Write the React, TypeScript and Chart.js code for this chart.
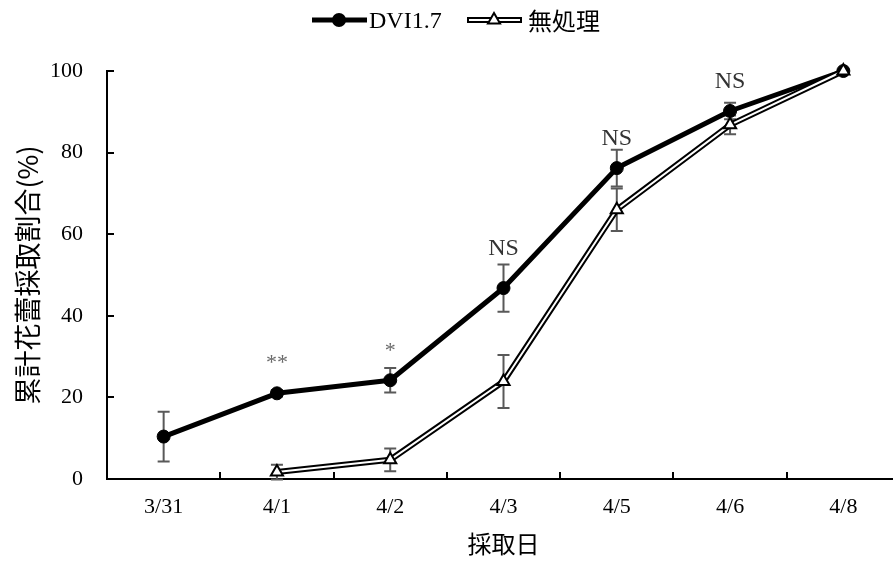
import React, { useEffect, useRef } from 'react';
import { Chart, registerables } from 'chart.js';

Chart.register(...registerables);

const categories = ['3/31', '4/1', '4/2', '4/3', '4/5', '4/6', '4/8'];
const dviValues = [10.4, 21.0, 24.2, 46.8, 76.2, 90.2, 100];
const dviErrors = [6.1, 0.8, 3.0, 5.8, 4.5, 2.0, 0];
const ntValues = [null, 1.7, 4.7, 23.9, 66.0, 86.8, 100];
const ntErrors = [null, 1.8, 2.8, 6.5, 5.2, 2.3, 0];
const sigLabels = ['', '**', '*', 'NS', 'NS', 'NS', ''];
const sigLabelY = [null, 27.0, 29.9, 54.9, 81.9, 95.8, null];
const yTicks = [0, 20, 40, 60, 80, 100];

const SERIF = '"Liberation Serif", "Times New Roman", serif';
const CJK = '"Noto Sans CJK JP", "Noto Sans", sans-serif';

const errorBarPlugin = {
  id: 'errorBars',
  beforeDatasetsDraw(chart: any) {
    const { ctx, scales } = chart;
    const xs = scales.x;
    const ys = scales.y;
    ctx.save();
    ctx.strokeStyle = '#595959';
    ctx.lineWidth = 2;
    const series: [Array<number | null>, Array<number | null>][] = [
      [dviValues, dviErrors],
      [ntValues, ntErrors],
    ];
    series.forEach(([vals, errs]) => {
      vals.forEach((v, i) => {
        const e = errs[i];
        if (v == null || e == null || e === 0) return;
        const x = xs.getPixelForValue(i);
        const yt = ys.getPixelForValue(v + e);
        const yb = ys.getPixelForValue(v - e);
        ctx.beginPath();
        ctx.moveTo(x, yt);
        ctx.lineTo(x, yb);
        ctx.moveTo(x - 6, yt);
        ctx.lineTo(x + 6, yt);
        ctx.moveTo(x - 6, yb);
        ctx.lineTo(x + 6, yb);
        ctx.stroke();
      });
    });
    ctx.restore();
  },
};

const ticksPlugin = {
  id: 'innerTicks',
  afterDatasetsDraw(chart: any) {
    const { ctx, scales, chartArea } = chart;
    const xs = scales.x;
    const ys = scales.y;
    ctx.save();
    ctx.strokeStyle = '#000';
    ctx.lineWidth = 2;
    ctx.beginPath();
    yTicks.forEach((t) => {
      if (t === 0) return;
      const y = Math.round(ys.getPixelForValue(t));
      ctx.moveTo(chartArea.left, y);
      ctx.lineTo(chartArea.left + 7, y);
    });
    for (let i = 1; i < categories.length; i++) {
      const x = Math.round((xs.getPixelForValue(i - 1) + xs.getPixelForValue(i)) / 2);
      ctx.moveTo(x, chartArea.bottom);
      ctx.lineTo(x, chartArea.bottom - 7);
    }
    ctx.moveTo(chartArea.right, chartArea.bottom);
    ctx.lineTo(chartArea.right, chartArea.bottom - 7);
    ctx.stroke();
    ctx.restore();
  },
};

const sigPlugin = {
  id: 'sigLabels',
  afterDatasetsDraw(chart: any) {
    const { ctx, scales } = chart;
    ctx.save();
    ctx.textAlign = 'center';
    ctx.textBaseline = 'alphabetic';
    sigLabels.forEach((lab, i) => {
      const v = sigLabelY[i];
      if (!lab || v == null) return;
      const isNS = lab === 'NS';
      ctx.font = `${isNS ? 24 : 22}px ${SERIF}`;
      ctx.fillStyle = isNS ? '#333333' : '#6a6a6a';
      ctx.fillText(lab, scales.x.getPixelForValue(i), scales.y.getPixelForValue(v));
    });
    ctx.restore();
  },
};

const legendPlugin = {
  id: 'customLegend',
  afterDraw(chart: any) {
    const { ctx } = chart;
    const cy = 20;
    ctx.save();
    // DVI1.7
    ctx.strokeStyle = '#000';
    ctx.lineWidth = 5;
    ctx.beginPath();
    ctx.moveTo(312, cy);
    ctx.lineTo(367, cy);
    ctx.stroke();
    ctx.fillStyle = '#000';
    ctx.beginPath();
    ctx.arc(339, cy, 7, 0, Math.PI * 2);
    ctx.fill();
    ctx.font = `24px ${SERIF}`;
    ctx.textAlign = 'left';
    ctx.textBaseline = 'alphabetic';
    ctx.fillText(chart.data.datasets[0].label, 369, cy + 8);
    // 無処理
    ctx.lineWidth = 6;
    ctx.beginPath();
    ctx.moveTo(467, cy);
    ctx.lineTo(522, cy);
    ctx.stroke();
    ctx.strokeStyle = '#fff';
    ctx.lineWidth = 2;
    ctx.beginPath();
    ctx.moveTo(469, cy);
    ctx.lineTo(520, cy);
    ctx.stroke();
    const r = 7;
    ctx.beginPath();
    ctx.moveTo(494, cy - r);
    ctx.lineTo(494 + r * 0.866, cy + r * 0.5);
    ctx.lineTo(494 - r * 0.866, cy + r * 0.5);
    ctx.closePath();
    ctx.fillStyle = '#fff';
    ctx.fill();
    ctx.strokeStyle = '#000';
    ctx.lineWidth = 2;
    ctx.stroke();
    ctx.fillStyle = '#000';
    ctx.font = `24px ${CJK}`;
    ctx.textBaseline = 'middle';
    ctx.fillText(chart.data.datasets[3].label, 528, cy + 1);
    ctx.restore();
  },
};

export default function App() {
  const ref = useRef<HTMLCanvasElement>(null);
  useEffect(() => {
    const canvas = ref.current;
    if (!canvas) return;
    const chart = new Chart(canvas, {
      type: 'line',
      data: {
        labels: categories,
        datasets: [
          {
            label: 'DVI1.7',
            data: dviValues,
            borderColor: '#000',
            backgroundColor: '#000',
            borderWidth: 5,
            borderJoinStyle: 'round',
            pointRadius: 6.5,
            pointBackgroundColor: '#000',
            pointBorderColor: '#000',
            pointBorderWidth: 1,
            tension: 0,
            clip: false,
            order: 4,
          },
          {
            label: '無処理-outer',
            data: ntValues,
            borderColor: '#000',
            borderWidth: 6,
            borderJoinStyle: 'round',
            pointRadius: 0,
            spanGaps: false,
            clip: false,
            order: 3,
          },
          {
            label: '無処理-inner',
            data: ntValues,
            borderColor: '#fff',
            borderWidth: 2,
            borderJoinStyle: 'round',
            pointRadius: 0,
            spanGaps: false,
            clip: false,
            order: 2,
          },
          {
            label: '無処理',
            data: ntValues,
            showLine: false,
            pointStyle: 'triangle',
            pointRadius: 7,
            pointBackgroundColor: '#fff',
            pointBorderColor: '#000',
            pointBorderWidth: 2,
            clip: false,
            order: 1,
          },
        ] as any,
      },
      options: {
        animation: false,
        responsive: false,
        devicePixelRatio: 1,
        events: [],
        layout: { padding: { top: 71, right: 10, bottom: 0, left: 0 } },
        plugins: {
          legend: { display: false },
          tooltip: { enabled: false },
          title: { display: false },
        },
        scales: {
          x: {
            type: 'category',
            offset: true,
            grid: { display: false, drawTicks: false },
            border: { display: true, color: '#000', width: 2 },
            ticks: {
              color: '#000',
              font: { family: SERIF, size: 22 },
              padding: 15,
              maxRotation: 0,
              autoSkip: false,
            },
            title: {
              display: true,
              text: '採取日',
              color: '#000',
              font: { family: CJK, size: 24 },
              padding: { top: 0, bottom: 4 },
            },
            afterFit(scale: any) {
              scale.height = 83;
            },
          },
          y: {
            min: 0,
            max: 100,
            grid: { display: false, drawTicks: false },
            border: { display: true, color: '#000', width: 2 },
            ticks: {
              stepSize: 20,
              color: '#000',
              font: { family: SERIF, size: 22 },
              padding: 24,
            },
            title: {
              display: true,
              text: '累計花蕾採取割合(%)',
              color: '#000',
              font: { family: CJK, size: 27 },
              padding: { top: 12, bottom: 12 },
            },
            afterFit(scale: any) {
              scale.width = 107;
            },
          },
        },
      } as any,
      plugins: [errorBarPlugin, ticksPlugin, sigPlugin, legendPlugin],
    });
    return () => chart.destroy();
  }, []);
  return (
    <div
      style={{
        position: 'fixed',
        left: 0,
        top: 0,
        width: 893,
        height: 562,
        overflow: 'hidden',
        background: '#fff',
      }}
    >
      <canvas ref={ref} width={910} height={562} style={{ display: 'block', width: 910, height: 562 }} />
    </div>
  );
}
